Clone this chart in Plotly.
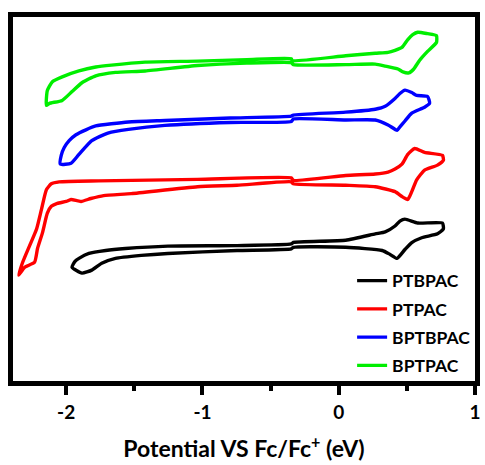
import plotly.graph_objects as go

# Potential (V vs Fc/Fc+) and current (a.u., vertically offset)
ptbpac_x = [-1.957, -1.935, -1.906, -1.833, -1.710, -1.565, -1.254, -0.746, -0.348, -0.333, 0.051, 0.268,
            0.341, 0.413, 0.449, 0.486, 0.580, 0.761, 0.768, 0.725, 0.609, 0.536, 0.486, 0.428, 0.377, 0.319,
            0.051, -0.333, -0.348, -0.746, -1.254, -1.449, -1.638, -1.739, -1.812, -1.884, -1.957]
ptbpac_y = [11.6, 12.2, 12.5, 13.0, 13.3, 13.5, 13.75, 13.8, 13.97, 14.13, 14.35, 15.0,
            15.2, 15.8, 16.3, 16.5, 16.1, 16.1, 15.5, 15.0, 14.6, 14.1, 13.4, 12.5, 12.9, 13.3,
            13.63, 13.63, 13.47, 13.3, 13.0, 12.8, 12.5, 12.0, 11.3, 11.0, 11.6]

ptpac_x = [-2.348, -2.319, -2.268, -2.217, -2.181, -2.145, -2.109, -2.051, -1.761, -1.036, -0.348, -0.333,
           0.051, 0.268, 0.362, 0.413, 0.464, 0.507, 0.558, 0.630, 0.761, 0.768, 0.725, 0.630, 0.572, 0.536,
           0.507, 0.464, 0.413, 0.268, 0.051, -0.333, -0.348, -0.746, -1.036, -1.522, -1.725, -1.819, -1.891,
           -1.964, -2.000, -2.065, -2.109, -2.138, -2.174, -2.210, -2.232, -2.304, -2.348]
ptpac_y = [10.8, 12.1, 13.8, 15.5, 17.5, 19.5, 20.1, 20.3, 20.4, 20.55, 20.7, 20.45,
           20.95, 21.1, 21.3, 21.6, 22.1, 23.1, 23.7, 23.3, 23.0, 22.5, 22.0, 21.5, 20.5, 19.3,
           18.5, 18.8, 19.3, 19.8, 19.95, 20.1, 20.3, 19.95, 19.8, 19.1, 18.9, 18.6, 18.3,
           18.5, 18.3, 18.1, 17.8, 17.1, 15.1, 13.5, 12.1, 11.6, 10.8]

bptbpac_x = [-2.043, -2.036, -2.014, -1.978, -1.928, -1.855, -1.783, -1.543, -1.275, -0.797, -0.348, -0.333,
             0.051, 0.268, 0.341, 0.413, 0.449, 0.486, 0.536, 0.572, 0.652, 0.667, 0.630, 0.536, 0.486, 0.449,
             0.428, 0.362, 0.268, 0.051, -0.333, -0.348, -0.797, -1.275, -1.543, -1.688, -1.812, -1.906,
             -1.964, -2.043]
bptbpac_y = [22.1, 23.0, 23.8, 24.5, 25.1, 25.6, 26.0, 26.4, 26.55, 26.8, 27.0, 27.1,
             27.4, 27.7, 28.0, 28.8, 29.3, 29.65, 29.4, 29.1, 29.0, 28.3, 27.9, 27.3, 26.5, 25.9,
             25.55, 26.1, 26.6, 26.6, 26.7, 26.45, 26.35, 26.05, 25.65, 25.3, 24.5, 23.1,
             22.2, 22.1]

bptpac_x = [-2.145, -2.138, -2.101, -2.029, -1.906, -1.783, -1.667, -1.420, -1.036, -0.674, -0.348, -0.341,
            0.051, 0.268, 0.362, 0.413, 0.464, 0.507, 0.543, 0.580, 0.652, 0.717, 0.717, 0.652, 0.594, 0.551,
            0.514, 0.471, 0.435, 0.341, 0.268, 0.051, -0.333, -0.348, -0.674, -1.036, -1.420, -1.638, -1.783,
            -1.884, -1.957, -2.029, -2.123, -2.145]
bptpac_y = [28.1, 29.6, 30.5, 31.0, 31.6, 32.0, 32.2, 32.5, 32.6, 32.75, 32.85, 32.65,
            33.15, 33.4, 33.5, 33.7, 34.0, 34.8, 35.3, 35.55, 35.4, 35.2, 34.5, 33.6, 32.7, 31.8,
            31.4, 31.5, 31.8, 32.1, 32.3, 32.25, 32.25, 32.45, 32.4, 32.15, 31.6, 31.45, 31.1,
            30.4, 29.5, 28.6, 28.3, 28.1]

names = ["PTBPAC", "PTPAC", "BPTBPAC", "BPTPAC"]
colors = ["#000000", "#ff0000", "#0000ff", "#00ee00"]
xs = [ptbpac_x, ptpac_x, bptbpac_x, bptpac_x]
ys = [ptbpac_y, ptpac_y, bptbpac_y, bptpac_y]

tick_vals = [-2, -1, 0, 1]
tick_text = ["-2", "-1", "0", "1"]

FONT = "Lato, Open Sans, sans-serif"

fig = go.Figure()
for n, c, x, y in zip(names, colors, xs, ys):
    fig.add_trace(go.Scatter(x=x, y=y, mode="lines", name=n, legendgroup=n,
                             line=dict(color=c, width=3.4, shape="spline", smoothing=0.5)))

fig.update_layout(
    width=485, height=465,
    margin=dict(l=13, r=5, t=17, b=77),
    paper_bgcolor="white", plot_bgcolor="white",
    font=dict(family=FONT, color="black"),
    legend=dict(x=0.734, y=0.325, xanchor="left", yanchor="top", tracegroupgap=2.5,
                font=dict(family=FONT, size=17.5, weight="bold", color="black"),
                bgcolor="rgba(0,0,0,0)", borderwidth=0),
    xaxis=dict(range=[-2.39, 1.0], showline=True, linewidth=5, linecolor="black", mirror=True,
               showgrid=False, zeroline=False,
               tickmode="array", tickvals=tick_vals, ticktext=tick_text,
               ticks="outside", ticklen=9, tickwidth=4, tickcolor="black",
               minor=dict(ticks="outside", dtick=0.5, tick0=0, ticklen=5, tickwidth=4, tickcolor="black"),
               tickfont=dict(family=FONT, size=19, weight="bold", color="black"),
               ticklabelstandoff=1,
               title=dict(text="Potential VS Fc/Fc<sup>+</sup> (eV)",
                          font=dict(family=FONT, size=23, weight="bold", color="black"), standoff=21)),
    yaxis=dict(range=[0, 37.1], showline=True, linewidth=5, linecolor="black", mirror=True,
               showgrid=False, zeroline=False, showticklabels=False, ticks=""),
)

fig.write_html("out.html")
